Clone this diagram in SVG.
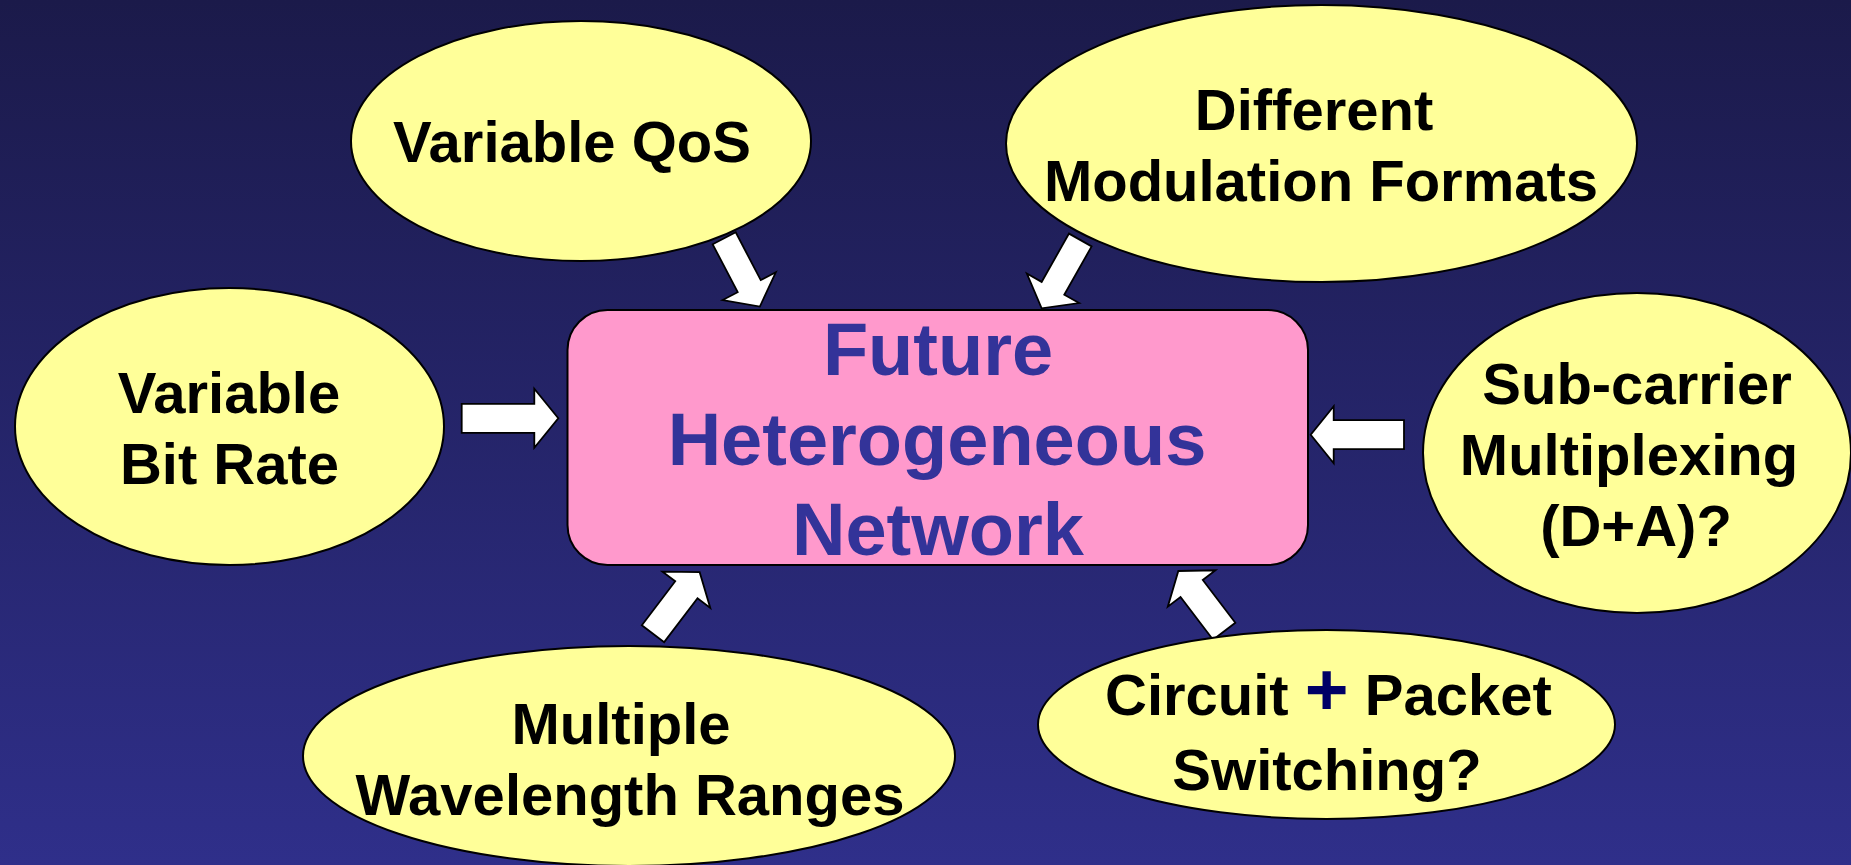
<svg xmlns="http://www.w3.org/2000/svg" width="1851" height="865" viewBox="0 0 1851 865">
  <defs>
    <linearGradient id="bg" x1="0" y1="0" x2="0" y2="1">
      <stop offset="0" stop-color="#1b1a4a"/>
      <stop offset="1" stop-color="#2f2f8a"/>
    </linearGradient>
    <style>
      .ell { fill: #ffff99; stroke: #000000; stroke-width: 2; }
      .box { fill: #ff99cc; stroke: #000000; stroke-width: 2; }
      .arr { fill: #ffffff; stroke: #000000; stroke-width: 1.8; stroke-linejoin: miter; }
      .t { font-family: "Liberation Sans", Arial, sans-serif; font-weight: bold; font-size: 58px; fill: #000000; text-anchor: middle; }
      .c { font-family: "Liberation Sans", Arial, sans-serif; font-weight: bold; font-size: 74px; fill: #333399; text-anchor: middle; }
      .plus { font-size: 75px; fill: #000066; }
    </style>
  </defs>
  <rect x="0" y="0" width="1851" height="865" fill="url(#bg)"/>

  <g id="connectors">
    <path class="arr" transform="translate(724.2,238.3) rotate(62.4)" d="M0,-13 H54 V-30 L77,0 L54,30 V13 H0 Z"/>
    <path class="arr" transform="translate(1080.3,240) rotate(119.5)" d="M0,-13 H55.5 V-30 L78.5,0 L55.5,30 V13 H0 Z"/>
    <path class="arr" transform="translate(461.7,418.3)" d="M0,-14.5 H72.6 V-29.5 L96.6,0 L72.6,29.5 V14.5 H0 Z"/>
    <path class="arr" transform="translate(1404,434.7) rotate(180)" d="M0,-14.5 H70.3 V-28.5 L93.3,0 L70.3,28.5 V14.5 H0 Z"/>
    <path class="arr" transform="translate(653,633.7) rotate(-52.8)" d="M0,-14 H55.2 V-30 L77.2,0 L55.2,30 V14 H0 Z"/>
    <path class="arr" transform="translate(1224.2,631.2) rotate(-127.3)" d="M0,-14 H53.7 V-30 L75.7,0 L53.7,30 V14 H0 Z"/>
  </g>

  <g id="center">
    <rect class="box" x="567.5" y="310" width="740.5" height="255" rx="40" ry="40"/>
    <text class="c" x="938" y="375">Future</text>
    <text class="c" x="937" y="465">Heterogeneous</text>
    <text class="c" x="938" y="555">Network</text>
  </g>

  <g id="variable-qos">
    <ellipse class="ell" cx="581" cy="141" rx="230" ry="120"/>
    <text class="t" x="572" y="162">Variable QoS</text>
  </g>

  <g id="modulation-formats">
    <ellipse class="ell" cx="1321.5" cy="143.5" rx="315.5" ry="138.5"/>
    <text class="t" x="1314" y="130">Different</text>
    <text class="t" x="1321" y="201">Modulation Formats</text>
  </g>

  <g id="variable-bit-rate">
    <ellipse class="ell" cx="229.5" cy="426.5" rx="214.5" ry="138.5"/>
    <text class="t" x="229" y="413">Variable</text>
    <text class="t" x="229.5" y="484">Bit Rate</text>
  </g>

  <g id="subcarrier-multiplexing">
    <ellipse class="ell" cx="1637" cy="453" rx="214" ry="160"/>
    <text class="t" x="1637" y="404">Sub-carrier</text>
    <text class="t" x="1629" y="475">Multiplexing</text>
    <text class="t" x="1636" y="546">(D+A)?</text>
  </g>

  <g id="wavelength-ranges">
    <ellipse class="ell" cx="629" cy="756" rx="326" ry="110"/>
    <text class="t" x="621" y="744">Multiple</text>
    <text class="t" x="630" y="815">Wavelength Ranges</text>
  </g>

  <g id="circuit-packet">
    <ellipse class="ell" cx="1326.5" cy="724.5" rx="288.5" ry="94.5"/>
    <text class="t" x="1105" y="715" style="text-anchor:start">Circuit <tspan class="plus">+</tspan> Packet</text>
    <text class="t" x="1327" y="790">Switching?</text>
  </g>
</svg>
